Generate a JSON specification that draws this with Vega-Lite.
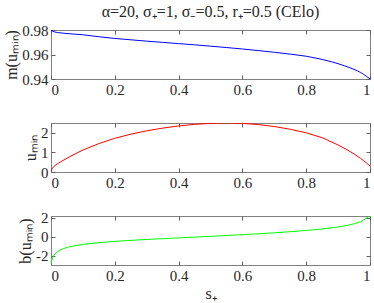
{
  "$schema": "https://vega.github.io/schema/vega-lite/v6.json",
  "padding": {"left": 3, "top": 3, "right": 0, "bottom": 4},
  "bounds": "flush",
  "spacing": 44,
  "config": {
    "font": "Liberation Serif",
    "view": {"stroke": "#808080", "strokeWidth": 1},
    "axis": {
      "grid": false, "domain": false, "tickColor": "#606060", "tickSize": -4,
      "labelFont": "Liberation Serif", "labelFontSize": 15, "labelColor": "#262626", "labelPadding": 7,
      "titleFont": "Liberation Serif", "titleFontSize": 16, "titleFontWeight": "normal", "titleColor": "#262626", "titlePadding": 2
    },
    "title": {"font": "Liberation Serif", "fontSize": 16, "fontWeight": "normal", "color": "#262626"}
  },
  "datasets": {
    "m": [
      {"s": 0, "v": 0.9797}, {"s": 0.005, "v": 0.979}, {"s": 0.01, "v": 0.9785}, {"s": 0.02, "v": 0.9779},
      {"s": 0.05, "v": 0.9771}, {"s": 0.1, "v": 0.9761}, {"s": 0.15, "v": 0.9745}, {"s": 0.2, "v": 0.9731},
      {"s": 0.25, "v": 0.972}, {"s": 0.3, "v": 0.9709}, {"s": 0.35, "v": 0.9699}, {"s": 0.4, "v": 0.9689},
      {"s": 0.45, "v": 0.9679}, {"s": 0.5, "v": 0.9668}, {"s": 0.55, "v": 0.9657}, {"s": 0.6, "v": 0.9645},
      {"s": 0.65, "v": 0.9632}, {"s": 0.7, "v": 0.9618}, {"s": 0.75, "v": 0.9603}, {"s": 0.8, "v": 0.9586},
      {"s": 0.85, "v": 0.956}, {"s": 0.88, "v": 0.954}, {"s": 0.9, "v": 0.9525}, {"s": 0.92, "v": 0.9508},
      {"s": 0.94, "v": 0.9489}, {"s": 0.96, "v": 0.9467}, {"s": 0.97, "v": 0.9454}, {"s": 0.98, "v": 0.9438},
      {"s": 0.99, "v": 0.942}, {"s": 1, "v": 0.94}
    ],
    "u": [
      {"s": 0, "v": 0}, {"s": 0.002, "v": 0.12}, {"s": 0.005, "v": 0.2}, {"s": 0.01, "v": 0.3},
      {"s": 0.02, "v": 0.42}, {"s": 0.03, "v": 0.52}, {"s": 0.05, "v": 0.7}, {"s": 0.075, "v": 0.92},
      {"s": 0.1, "v": 1.12}, {"s": 0.15, "v": 1.45}, {"s": 0.2, "v": 1.72}, {"s": 0.25, "v": 1.93},
      {"s": 0.3, "v": 2.1}, {"s": 0.35, "v": 2.24}, {"s": 0.4, "v": 2.35}, {"s": 0.45, "v": 2.43},
      {"s": 0.5, "v": 2.48}, {"s": 0.55, "v": 2.5}, {"s": 0.6, "v": 2.48}, {"s": 0.65, "v": 2.42},
      {"s": 0.7, "v": 2.32}, {"s": 0.75, "v": 2.18}, {"s": 0.8, "v": 2.0}, {"s": 0.85, "v": 1.75},
      {"s": 0.9, "v": 1.38}, {"s": 0.93, "v": 1.12}, {"s": 0.95, "v": 0.92}, {"s": 0.97, "v": 0.7},
      {"s": 0.98, "v": 0.58}, {"s": 0.99, "v": 0.45}, {"s": 1, "v": 0.3}
    ],
    "b": [
      {"s": 0, "v": -2.9}, {"s": 0.002, "v": -2.5}, {"s": 0.005, "v": -2.2}, {"s": 0.01, "v": -1.9},
      {"s": 0.02, "v": -1.55}, {"s": 0.03, "v": -1.35}, {"s": 0.05, "v": -1.1}, {"s": 0.075, "v": -0.92},
      {"s": 0.1, "v": -0.78}, {"s": 0.15, "v": -0.6}, {"s": 0.2, "v": -0.47}, {"s": 0.25, "v": -0.36},
      {"s": 0.3, "v": -0.27}, {"s": 0.35, "v": -0.18}, {"s": 0.4, "v": -0.1}, {"s": 0.45, "v": -0.02},
      {"s": 0.5, "v": 0.06}, {"s": 0.55, "v": 0.15}, {"s": 0.6, "v": 0.24}, {"s": 0.65, "v": 0.33},
      {"s": 0.7, "v": 0.43}, {"s": 0.75, "v": 0.55}, {"s": 0.8, "v": 0.68}, {"s": 0.85, "v": 0.84},
      {"s": 0.9, "v": 1.05}, {"s": 0.93, "v": 1.22}, {"s": 0.95, "v": 1.38}, {"s": 0.97, "v": 1.6},
      {"s": 0.98, "v": 1.78}, {"s": 0.99, "v": 2.0}, {"s": 1, "v": 2.2}
    ]
  },
  "vconcat": [
    {
      "width": 319, "height": 49,
      "data": {"name": "m"},
      "title": {"text": "α=20, σ₊=1, σ₋=0.5, r₊=0.5 (CElo)", "frame": "group", "anchor": "middle", "offset": 3},
      "layer": [
        {
          "mark": {"type": "line", "color": "#0000ff", "strokeWidth": 1, "clip": true},
          "encoding": {
            "x": {"field": "s", "type": "quantitative", "scale": {"domain": [0, 1], "nice": false},
                  "axis": {"values": [0, 0.2, 0.4, 0.6, 0.8, 1], "format": "~g", "title": null}},
            "y": {"field": "v", "type": "quantitative", "scale": {"domain": [0.94, 0.98], "nice": false, "zero": false},
                  "axis": {"values": [0.94, 0.96, 0.98], "format": "~g", "title": "m(uₘᵢₙ)"}}
          }
        },
        {
          "mark": {"type": "line", "strokeOpacity": 0},
          "encoding": {
            "x": {"field": "s", "type": "quantitative", "axis": {"orient": "top", "values": [0, 0.2, 0.4, 0.6, 0.8, 1], "labels": false, "title": null}},
            "y": {"field": "v", "type": "quantitative", "axis": {"orient": "right", "values": [0.94, 0.96, 0.98], "labels": false, "title": null}}
          }
        }
      ],
      "resolve": {"axis": {"x": "independent", "y": "independent"}}
    },
    {
      "width": 319, "height": 49,
      "data": {"name": "u"},
      "layer": [
        {
          "mark": {"type": "line", "color": "#ff0000", "strokeWidth": 1, "clip": true},
          "encoding": {
            "x": {"field": "s", "type": "quantitative", "scale": {"domain": [0, 1], "nice": false},
                  "axis": {"values": [0, 0.2, 0.4, 0.6, 0.8, 1], "format": "~g", "title": null}},
            "y": {"field": "v", "type": "quantitative", "scale": {"domain": [0, 2.5], "nice": false},
                  "axis": {"values": [0, 1, 2], "format": "~g", "title": "uₘᵢₙ"}}
          }
        },
        {
          "mark": {"type": "line", "strokeOpacity": 0},
          "encoding": {
            "x": {"field": "s", "type": "quantitative", "axis": {"orient": "top", "values": [0, 0.2, 0.4, 0.6, 0.8, 1], "labels": false, "title": null}},
            "y": {"field": "v", "type": "quantitative", "axis": {"orient": "right", "values": [0, 1, 2], "labels": false, "title": null}}
          }
        }
      ],
      "resolve": {"axis": {"x": "independent", "y": "independent"}}
    },
    {
      "width": 319, "height": 49,
      "data": {"name": "b"},
      "layer": [
        {
          "mark": {"type": "line", "color": "#00ff00", "strokeWidth": 1, "clip": true},
          "encoding": {
            "x": {"field": "s", "type": "quantitative", "scale": {"domain": [0, 1], "nice": false},
                  "axis": {"values": [0, 0.2, 0.4, 0.6, 0.8, 1], "format": "~g", "title": "s₊"}},
            "y": {"field": "v", "type": "quantitative", "scale": {"domain": [-2.95, 2.2], "nice": false, "zero": false},
                  "axis": {"values": [-2, 0, 2], "format": "~g", "labelExpr": "replace(datum.label, '−', '-')", "title": "b(uₘᵢₙ)"}}
          }
        },
        {
          "mark": {"type": "line", "strokeOpacity": 0},
          "encoding": {
            "x": {"field": "s", "type": "quantitative", "axis": {"orient": "top", "values": [0, 0.2, 0.4, 0.6, 0.8, 1], "labels": false, "title": null}},
            "y": {"field": "v", "type": "quantitative", "axis": {"orient": "right", "values": [-2, 0, 2], "labels": false, "title": null}}
          }
        }
      ],
      "resolve": {"axis": {"x": "independent", "y": "independent"}}
    }
  ]
}
